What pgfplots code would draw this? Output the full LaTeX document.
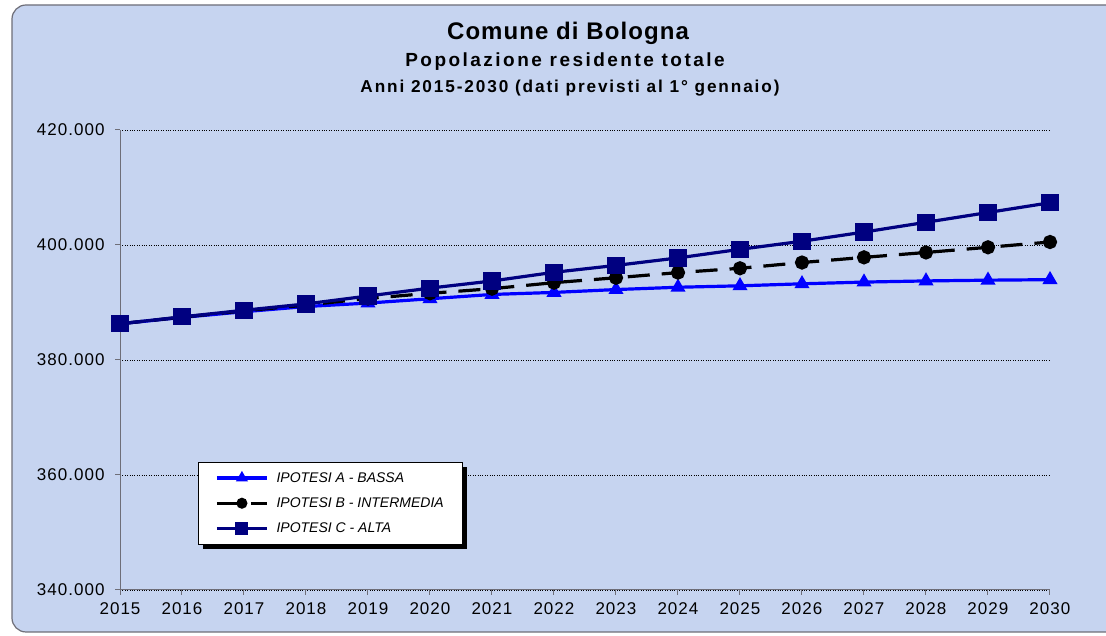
\documentclass[border=0pt]{standalone}
\usepackage{pgfplots}
\pgfplotsset{compat=1.18}
\usepackage{pgfplotstable}
\usepackage{fontspec}
\setmainfont{Liberation Sans}
\usetikzlibrary{calc}
\definecolor{bgc}{RGB}{198,212,240}
\definecolor{navyc}{RGB}{0,0,128}
\definecolor{bluec}{RGB}{0,0,255}
\definecolor{framec}{RGB}{110,110,120}
\pgfdeclarelayer{back}
\pgfdeclarelayer{shadow}
\pgfsetlayers{back,shadow,main}

\pgfplotstableread{
year A B C
2015 386300 386300 386300
2016 387400 387450 387500
2017 388400 388550 388650
2018 389300 389550 389750
2019 389900 390700 391130
2020 390650 391600 392500
2021 391400 392400 393740
2022 391750 393450 395250
2023 392250 394300 396450
2024 392650 395200 397750
2025 392900 395950 399250
2026 393250 396950 400650
2027 393550 397850 402250
2028 393750 398700 403950
2029 393880 399600 405650
2030 393970 400520 407350
}\datatable

\begin{document}
\begin{tikzpicture}[x=1pt,y=1pt]
\useasboundingbox (0,0) rectangle (1106,636);
\begin{pgfonlayer}{back}
\fill[white] (0,0) rectangle (1106,636);
\draw[fill=bgc, draw=framec, line width=1.2pt, rounded corners=14pt] (12,4) rectangle (1125,631);
\end{pgfonlayer}
\node[font=\bfseries\fontsize{24}{26}\selectfont\addfontfeature{LetterSpace=4.5}] at (568,603) {Comune di Bologna};
\node[font=\bfseries\fontsize{19}{21}\selectfont\addfontfeature{LetterSpace=13}] at (565,574) {Popolazione residente totale};
\node[font=\bfseries\fontsize{17.2}{20}\selectfont\addfontfeature{LetterSpace=11}] at (570,548) {Anni 2015-2030 (dati previsti al 1° gennaio)};
\begin{axis}[
  at={(120pt,46pt)}, anchor=south west,
  scale only axis, width=930pt, height=460pt,
  xmin=2015, xmax=2030, ymin=340000, ymax=420000,
  xtick={2015,...,2030}, ytick={340000,360000,...,420000},
  scaled y ticks=false,
  axis lines=left, axis line style={-, draw=framec, line width=1pt},
  ymajorgrids, major grid style={black, dotted, line width=0.9pt},
  tick style={draw=framec, line width=1pt}, major tick length=5pt, tick align=outside,
  /pgf/number format/assume math mode=true,
  tick label style={font=\fontsize{17}{19}\selectfont\addfontfeature{LetterSpace=6}},
  yticklabel style={/pgf/number format/fixed, /pgf/number format/1000 sep={.}, xshift=-7pt},
  xticklabel style={/pgf/number format/1000 sep={}, yshift=-4pt},
  legend style={at={(0.084,0.278)}, anchor=north west, draw=none, fill=white,
    font=\itshape\fontsize{14}{16}\selectfont, inner xsep=17pt, inner ysep=8pt, row sep=10pt, name=leg},
  legend cell align=left,
  legend image code/.code={\draw[mark repeat=2, mark phase=2, #1, every mark/.append style={scale=0.7}] plot coordinates {(0pt,0pt) (25pt,0pt) (50pt,0pt)};\path (56pt,0pt);},
]
\addplot[bluec, line width=3.2pt, mark=triangle*, mark size=5.5pt] table[x=year, y=A] {\datatable};
\addlegendentry{IPOTESI A - BASSA}
\addplot[black, line width=3.2pt, dash pattern=on 22pt off 12pt, mark=*, mark size=5.5pt, mark options={solid}] table[x=year, y=B] {\datatable};
\addlegendentry{IPOTESI B - INTERMEDIA}
\addplot[navyc, line width=3.2pt, mark=square*, mark size=7pt] table[x=year, y=C] {\datatable};
\addlegendentry{IPOTESI C - ALTA}
\end{axis}
\begin{pgfonlayer}{shadow}
\fill[black] ($(leg.south west)+(4.5pt,-4.5pt)$) rectangle ($(leg.north east)+(4.5pt,-4.5pt)$);
\end{pgfonlayer}
\draw[black, line width=1pt] (leg.south west) rectangle (leg.north east);
\end{tikzpicture}
\end{document}
